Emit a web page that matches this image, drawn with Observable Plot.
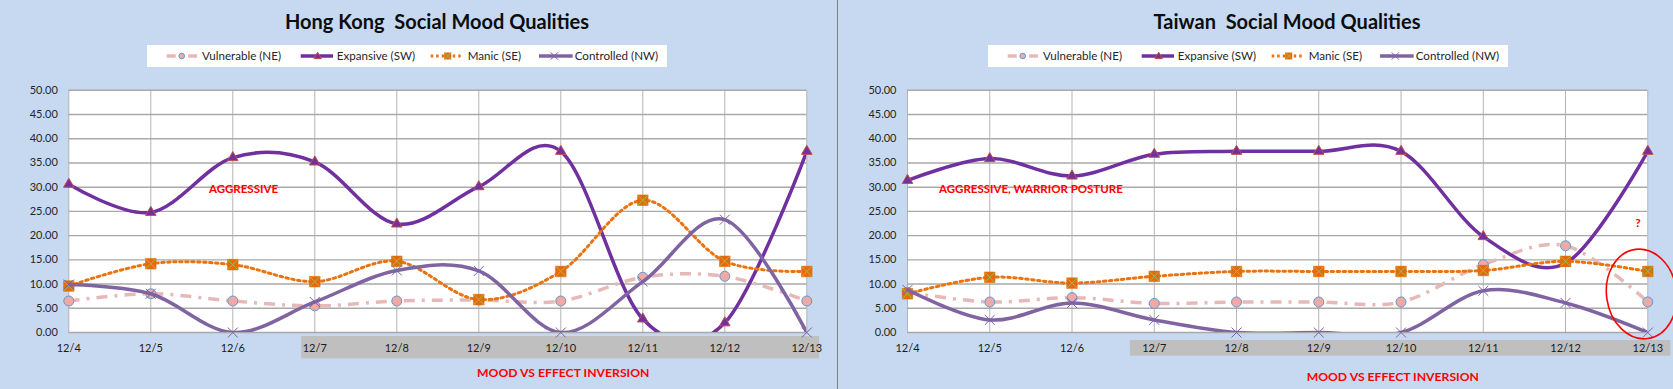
<!DOCTYPE html>
<html>
<head>
<meta charset="utf-8">
<script src="https://cdn.jsdelivr.net/npm/d3@7"></script>
<script src="https://cdn.jsdelivr.net/npm/@observablehq/plot@0.6"></script>
<style>
  html, body { margin: 0; padding: 0; background: #C6D9F1; }
  #root { position: relative; width: 1673px; height: 389px; overflow: hidden; background: #C6D9F1; font-family: Lato, "Open Sans", sans-serif; }
  .panel { position: absolute; top: 0; height: 389px; }
  .panel svg { overflow: visible; }
  .title { position: absolute; top: 11px; font-weight: bold; font-size: 20px; line-height: 20px; white-space: pre; color: #0d0d0d; transform: translateX(-50%); }
  .legend { position: absolute; top: 45px; height: 22px; width: 520px; background: #ffffff; }
  .legend svg { position: absolute; left: 0; top: 0; }
  .sep { position: absolute; left: 837px; top: 0; width: 1px; height: 389px; background: #7F7F7F; }
</style>
</head>
<body>
<div id="root"></div>
<script>
// ---------- data ----------
const dates = ["12/4", "12/5", "12/6", "12/7", "12/8", "12/9", "12/10", "12/11", "12/12", "12/13"];
const seriesNames = ["Vulnerable (NE)", "Expansive (SW)", "Manic (SE)", "Controlled (NW)"];
const yTicks = [0, 5, 10, 15, 20, 25, 30, 35, 40, 45, 50];

const hkVulnerable = [6.5, 8.0, 6.5, 5.5, 6.5, 6.7, 6.5, 11.4, 11.6, 6.5];
const hkExpansive  = [30.6, 24.8, 36.1, 35.2, 22.4, 30.1, 37.4, 2.8, 2.0, 37.4];
const hkManic      = [9.6, 14.2, 14.0, 10.5, 14.7, 6.8, 12.6, 27.3, 14.7, 12.6];
const hkControlled = [9.9, 8.0, 0, 6.3, 12.8, 12.7, 0, 10.5, 23.3, 0];

const twVulnerable = [8.3, 6.3, 7.2, 6.0, 6.3, 6.3, 6.3, 14.0, 17.9, 6.3];
const twExpansive  = [31.4, 35.9, 32.3, 36.8, 37.4, 37.4, 37.4, 19.8, 14.3, 37.4];
const twManic      = [8.0, 11.4, 10.2, 11.6, 12.6, 12.6, 12.6, 12.8, 14.7, 12.6];
const twControlled = [8.8, 2.6, 6.1, 2.6, 0, 0, 0, 8.6, 6.1, 0];

const hkTitle = "Hong Kong  Social Mood Qualities";
const twTitle = "Taiwan  Social Mood Qualities";
const hkNote = "AGGRESSIVE";
const twNote = "AGGRESSIVE, WARRIOR POSTURE";
const inversionNote = "MOOD VS EFFECT INVERSION";
const questionNote = "?";

// ---------- styles ----------
const styles = [
  {name: seriesNames[0], stroke: "#E6B9B8", width: 3.5, dash: "11,7,3,7", symbol: "circle", r: 5, fill: "#F2A9A6", mstroke: "#5B9BD5"},
  {name: seriesNames[1], stroke: "#7030A0", width: 3.5, dash: null, symbol: "triangle", r: 3.9, fill: "#7030A0", mstroke: "#C0504D"},
  {name: seriesNames[2], stroke: "#EA730E", width: 3, dash: "2.5,3.5", symbol: "square", r: 6, fill: "#E36C09", mstroke: "#9BBB59"},
  {name: seriesNames[3], stroke: "#8064A2", width: 3.5, dash: null, symbol: "times", r: 4.6, fill: "none", mstroke: "#7B5FB0"}
];

function rowsFor(values) {
  return values.map((v, i) => ({i, v}));
}

function seriesMarks(values, st) {
  const rows = rowsFor(values);
  const marks = [
    Plot.line(rows, {x: "i", y: "v", curve: "cardinal", stroke: st.stroke, strokeWidth: st.width,
      strokeDasharray: st.dash || undefined, strokeLinecap: st.dash && st.symbol === "circle" ? "butt" : "round", clip: true})
  ];
  if (st.symbol === "circle") {
    marks.push(Plot.dot(rows, {x: "i", y: "v", r: st.r, fill: st.fill, stroke: st.mstroke, strokeWidth: 1}));
  } else if (st.symbol === "triangle") {
    marks.push(Plot.dot(rows, {x: "i", y: "v", symbol: "triangle", r: st.r, fill: st.fill, stroke: st.mstroke, strokeWidth: 1}));
  } else if (st.symbol === "square") {
    marks.push(Plot.dot(rows, {x: "i", y: "v", symbol: "square", r: st.r, fill: st.fill, stroke: st.fill, strokeWidth: 0.5}));
    marks.push(Plot.dot(rows, {x: "i", y: "v", symbol: "times", r: 4.6, stroke: st.mstroke, strokeWidth: 1}));
  } else {
    marks.push(Plot.dot(rows, {x: "i", y: "v", symbol: "times", r: st.r, stroke: st.mstroke, strokeWidth: 1}));
  }
  return marks;
}

function makeLegend(container, left) {
  const div = document.createElement("div");
  div.className = "legend";
  div.style.left = left + "px";
  container.appendChild(div);
  const svg = d3.select(div).append("svg").attr("width", 520).attr("height", 22);
  const items = [
    {x0: 19.7, x1: 50, mx: 34.7, tx: 55},
    {x0: 153.7, x1: 186, mx: 170.7, tx: 189.7},
    {x0: 283.7, x1: 314.7, mx: 300.7, tx: 320.7},
    {x0: 392, x1: 425.7, mx: 407.3, tx: 427.7}
  ];
  const cy = 11;
  items.forEach((it, k) => {
    const st = styles[k];
    const g = svg.append("g");
    g.append("line").attr("x1", it.x0).attr("x2", it.x1).attr("y1", cy).attr("y2", cy)
      .attr("stroke", st.stroke).attr("stroke-width", st.width)
      .attr("stroke-dasharray", st.dash ? (k === 0 ? "9,5,2.5,5" : "2.5,3") : null);
    if (st.symbol === "circle") {
      g.append("circle").attr("cx", it.mx).attr("cy", cy).attr("r", 2.8).attr("fill", st.fill).attr("stroke", st.mstroke).attr("stroke-width", 1);
    } else if (st.symbol === "triangle") {
      g.append("path").attr("d", d3.symbol(d3.symbolTriangle, 24)()).attr("transform", `translate(${it.mx},${cy + 0.5})`)
        .attr("fill", st.fill).attr("stroke", st.mstroke).attr("stroke-width", 1);
    } else if (st.symbol === "square") {
      g.append("rect").attr("x", it.mx - 3.5).attr("y", cy - 3.5).attr("width", 7).attr("height", 7).attr("fill", st.fill);
      g.append("path").attr("d", d3.symbol(d3.symbolTimes, 30)()).attr("transform", `translate(${it.mx},${cy})`)
        .attr("fill", "none").attr("stroke", st.mstroke).attr("stroke-width", 1);
    } else {
      g.append("path").attr("d", d3.symbol(d3.symbolTimes, 36)()).attr("transform", `translate(${it.mx},${cy})`)
        .attr("fill", "none").attr("stroke", st.mstroke).attr("stroke-width", 1);
    }
    g.append("text").attr("x", it.tx).attr("y", cy).attr("dy", "0.35em")
      .attr("font-family", "Lato, sans-serif").attr("font-size", 11.6).attr("fill", "#262626").text(st.name);
  });
}

function makePanel(cfg) {
  const panel = document.createElement("div");
  panel.className = "panel";
  panel.style.left = cfg.left + "px";
  panel.style.width = cfg.width + "px";
  document.getElementById("root").appendChild(panel);

  const chart = Plot.plot({
    width: cfg.width,
    height: 389,
    marginLeft: cfg.marginLeft,
    marginRight: cfg.marginRight,
    marginTop: 89.8,
    marginBottom: 57,
    x: {domain: [0, 9]},
    y: {domain: [0, 50]},
    style: {background: "transparent", fontFamily: "Lato, sans-serif", fontSize: "11px", overflow: "visible"},
    marks: [
      Plot.frame({fill: "#ffffff", stroke: null}),
      Plot.ruleX(d3.range(dates.length), {stroke: "#B4B4B4", strokeWidth: 1}),
      Plot.ruleY(yTicks, {stroke: "#A9A9A9", strokeWidth: 1.4}),
      Plot.rect([cfg.band], {x1: "x1", x2: "x2", y1: "y1", y2: "y2", fill: "#BFBFBF"}),
      Plot.axisY(yTicks, {tickFormat: d => d.toFixed(2), tickSize: 0, tickPadding: 11, fontSize: 11, fill: "#262626"}),
      Plot.axisX(d3.range(dates.length), {tickFormat: i => dates[i], tickSize: 0, tickPadding: 12, fontSize: 11, fill: "#1a1a1a"}),
      ...seriesMarks(cfg.series[0], styles[0]),
      ...seriesMarks(cfg.series[1], styles[1]),
      ...seriesMarks(cfg.series[2], styles[2]),
      ...seriesMarks(cfg.series[3], styles[3]),
      Plot.text(cfg.notes, {x: "x", y: "y", text: "text", fill: "#FF0000", fontWeight: "bold", fontSize: "fs"}),
      ...(cfg.ellipse ? [(index, scales) => {
        const e = d3.create("svg:ellipse")
          .attr("cx", scales.x(cfg.ellipse.x)).attr("cy", scales.y(cfg.ellipse.y))
          .attr("rx", 35).attr("ry", 45)
          .attr("transform", `rotate(-8 ${scales.x(cfg.ellipse.x)} ${scales.y(cfg.ellipse.y)})`)
          .attr("fill", "none").attr("stroke", "#FF0000").attr("stroke-width", 1.6);
        return e.node();
      }] : [])
    ]
  });
  panel.appendChild(chart);

  const t = document.createElement("div");
  t.className = "title";
  t.style.left = cfg.titleX + "px";
  t.textContent = cfg.title;
  panel.appendChild(t);

  makeLegend(panel, cfg.legendLeft);
}

makePanel({
  left: 0, width: 837, marginLeft: 68.3, marginRight: 30.7,
  title: hkTitle, titleX: 437, legendLeft: 147,
  series: [hkVulnerable, hkExpansive, hkManic, hkControlled],
  band: {x1: 2.84, x2: 9.155, y1: -0.83, y2: -5.43},
  notes: [
    {x: 2.13, y: 29.5, text: hkNote, fs: 11.5},
    {x: 6.03, y: -8.45, text: inversionNote, fs: 12.2}
  ]
});

makePanel({
  left: 837, width: 836, marginLeft: 70, marginRight: 25.7,
  title: twTitle, titleX: 450, legendLeft: 151,
  series: [twVulnerable, twExpansive, twManic, twControlled],
  band: {x1: 2.71, x2: 9.28, y1: -1.65, y2: -4.89},
  notes: [
    {x: 1.5, y: 29.5, text: twNote, fs: 11.5},
    {x: 5.9, y: -9.2, text: inversionNote, fs: 12.2},
    {x: 8.88, y: 22.5, text: questionNote, fs: 12}
  ],
  ellipse: {x: 8.93, y: 7.85}
});

const sep = document.createElement("div");
sep.className = "sep";
document.getElementById("root").appendChild(sep);
</script>
</body>
</html>
